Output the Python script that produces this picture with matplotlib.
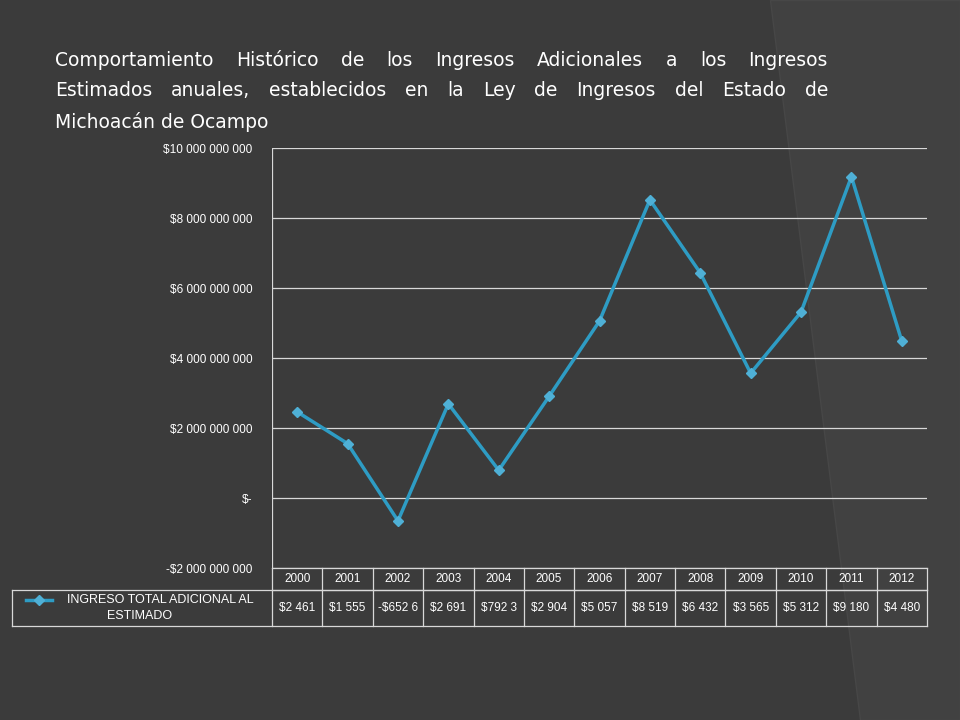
import matplotlib.pyplot as plt
from matplotlib.lines import Line2D
from matplotlib.patches import Polygon

years = ["2000", "2001", "2002", "2003", "2004", "2005", "2006",
         "2007", "2008", "2009", "2010", "2011", "2012"]
ingreso = [2461, 1555, -652.6, 2691, 792.3, 2904, 5057,
           8519, 6432, 3565, 5312, 9180, 4480]  # millones de pesos
table_labels = ["$2 461", "$1 555", "-$652 6", "$2 691", "$792 3", "$2 904", "$5 057",
                "$8 519", "$6 432", "$3 565", "$5 312", "$9 180", "$4 480"]
yticks = [-2e9, 0, 2e9, 4e9, 6e9, 8e9, 10e9]
ytick_labels = ["-$2 000 000 000", "$-", "$2 000 000 000", "$4 000 000 000",
                "$6 000 000 000", "$8 000 000 000", "$10 000 000 000"]
title_lines = [
    "Comportamiento Histórico de los Ingresos Adicionales a los Ingresos",
    "Estimados anuales, establecidos en la Ley de Ingresos del Estado de",
    "Michoacán de Ocampo",
]

W, H = 960, 720
BG = "#3b3b3b"
LINE = "#2e9cc4"
MK = "#4fb0d6"
plt.rcParams["font.family"] = "Liberation Sans"

fig = plt.figure(figsize=(9.6, 7.2), dpi=100, facecolor=BG)


def fx(px):
    return px / W


def fy(py):
    return 1 - py / H


# subtle decorative shape behind everything
fig.patches.append(Polygon([(fx(770), 1), (1, 1), (1, 0), (fx(860), 0)],
                           closed=True, transform=fig.transFigure,
                           facecolor="#414141", edgecolor="#474747", lw=1, zorder=-10))

# justified title
x0, x1 = 55, 828
r = fig.canvas.get_renderer()
for i, line in enumerate(title_lines):
    yy = fy(60 + i * 31)
    if i < len(title_lines) - 1:
        words = line.split()
        widths = []
        for w in words:
            t = fig.text(0, 0, w, fontsize=13.5, family="DejaVu Sans")
            widths.append(t.get_window_extent(r).width)
            t.remove()
        gap = (x1 - x0 - sum(widths)) / (len(words) - 1)
        x = x0
        for w, wd in zip(words, widths):
            fig.text(fx(x), yy, w, fontsize=13.5, family="DejaVu Sans",
                     color="white", va="center")
            x += wd + gap
    else:
        fig.text(fx(x0), yy, line, fontsize=13.5, family="DejaVu Sans",
                 color="white", va="center")

left, right, top, bottom = 272, 927, 148, 568
ax = fig.add_axes([fx(left), fy(bottom), fx(right - left), fy(top) - fy(bottom)])
ax.set_facecolor("none")
xs = list(range(len(years)))
ax.plot(xs, [v * 1e6 for v in ingreso], color=LINE, lw=2.5, marker="D",
        markersize=5, markerfacecolor=MK, markeredgecolor=MK)
ax.set_xlim(-0.5, len(years) - 0.5)
ax.set_ylim(-2e9, 10e9)
ax.set_yticks(yticks)
ax.set_yticklabels(ytick_labels, fontsize=8.5, color="white")
ax.set_xticks([])
ax.tick_params(axis="y", length=0, pad=14)
ax.grid(axis="y", color="#d8d8d8", lw=0.9)
for s in ax.spines.values():
    s.set_visible(False)
ax.axvline(-0.5, color="#d8d8d8", lw=0.9)

# data table
col_w = (right - left) / len(years)
tc = "#d8d8d8"
hdr_b, row_b, lab_l = 590, 626, 12
lines = [((left, right), (bottom, bottom)), ((left, right), (hdr_b, hdr_b)),
         ((lab_l, right), (hdr_b, hdr_b)), ((lab_l, right), (row_b, row_b)),
         ((lab_l, lab_l), (hdr_b, row_b))]
for i in range(len(years) + 1):
    xp = left + i * col_w
    lines.append(((xp, xp), (bottom, row_b)))
for (lx, ly) in lines:
    fig.add_artist(Line2D([fx(lx[0]), fx(lx[1])], [fy(ly[0]), fy(ly[1])],
                          color=tc, lw=0.9))
for i, (yr, lab) in enumerate(zip(years, table_labels)):
    cx = fx(left + (i + 0.5) * col_w)
    fig.text(cx, fy((bottom + hdr_b) / 2), yr, fontsize=8.5, color="white",
             ha="center", va="center")
    fig.text(cx, fy((hdr_b + row_b) / 2), lab, fontsize=8.5, color="white",
             ha="center", va="center")
fig.add_artist(Line2D([fx(26), fx(52)], [fy(600), fy(600)], color=LINE, lw=2.5))
fig.add_artist(Line2D([fx(39)], [fy(600)], color=LINE, marker="D", markersize=5,
                      markerfacecolor=MK, markeredgecolor=MK))
fig.text(fx(160), fy(600), "INGRESO TOTAL ADICIONAL AL", fontsize=9,
         color="white", ha="center", va="center")
fig.text(fx(140), fy(616), "ESTIMADO", fontsize=9, color="white",
         ha="center", va="center")

fig.savefig("out.png", dpi=100, facecolor=BG)
